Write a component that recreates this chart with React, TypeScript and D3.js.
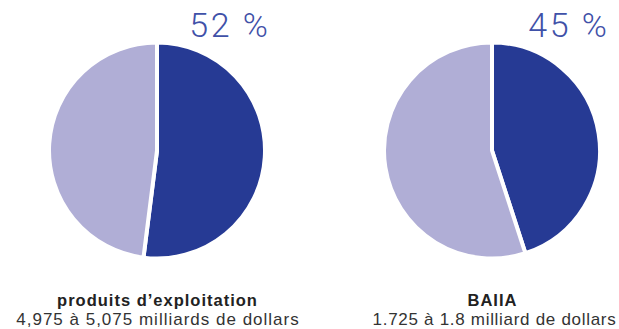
import React from "react";
import * as d3 from "d3";

const shares = [52, 45];
const percentLabels = ["52 %", "45 %"];
const titles = ["produits d’exploitation", "BAIIA"];
const subtitles = ["4,975 à 5,075 milliards de dollars", "1.725 à 1.8 milliard de dollars"];

const W = 619;
const H = 329;
const centersX = [157, 492];
const centerY = 150.5;
const R = 108;
const DARK = "#263a94";
const LIGHT = "#b0aed6";

export default function App() {
  const pie = d3.pie<number>().sort(null).value((d) => d);
  const arc = d3.arc<d3.PieArcDatum<number>>().innerRadius(0).outerRadius(R);
  return (
    <svg width={W} height={H} style={{ position: "absolute", left: 0, top: 0, background: "#fff" }}>
      {shares.map((s, i) => {
        const arcs = pie([s, 100 - s]);
        const cx = centersX[i];
        return (
          <g key={i}>
            <g transform={`translate(${cx},${centerY})`}>
              {arcs.map((a, j) => (
                <path key={j} d={arc(a) || ""} fill={j === 0 ? DARK : LIGHT} stroke="#fff" strokeWidth={4} strokeLinejoin="miter" />
              ))}
            </g>
            <text
              x={cx + (i === 0 ? 113.5 : 117.5)}
              y={37}
              textAnchor="end"
              fontFamily="Roboto, 'Helvetica Neue', 'Liberation Sans', sans-serif"
              fontWeight={300}
              fontSize={34}
              letterSpacing={2.5}
              fill="#3f51a8"
            >
              {percentLabels[i]}
            </text>
            <text x={cx + 0.5} y={306} textAnchor="middle" fontFamily="'Liberation Sans', Arial, sans-serif" fontWeight={700} fontSize={16.5} letterSpacing={1} fill="#222">
              {titles[i]}
            </text>
            <text x={cx + (i === 0 ? 1 : 2.5)} y={325} textAnchor="middle" fontFamily="'Liberation Sans', Arial, sans-serif" fontSize={17} letterSpacing={i === 0 ? 1 : 0.7} fill="#333">
              {subtitles[i]}
            </text>
          </g>
        );
      })}
    </svg>
  );
}
